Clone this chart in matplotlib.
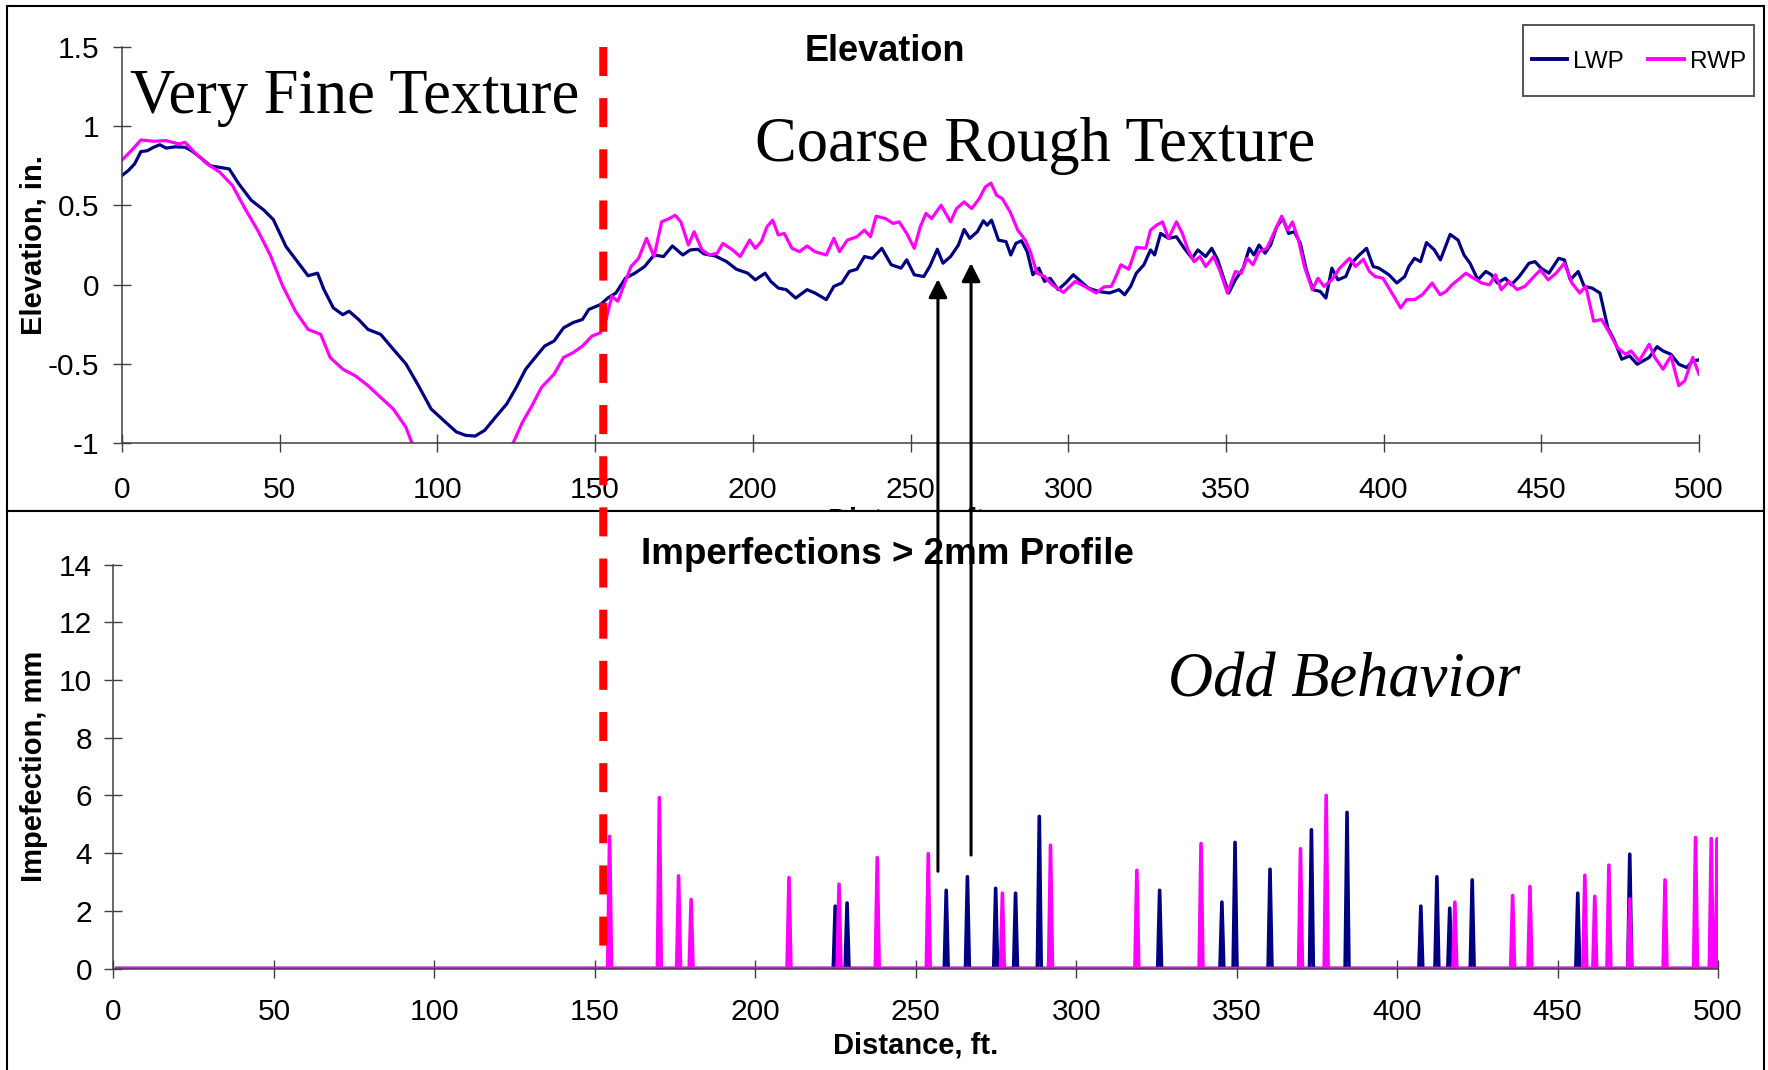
import numpy as np
import matplotlib
matplotlib.use("Agg")
import matplotlib.pyplot as plt
from matplotlib.patches import Rectangle, ConnectionPatch
from matplotlib.ticker import FuncFormatter

plt.rcParams['font.family'] = ['Liberation Sans', 'DejaVu Sans']
plt.rcParams['axes.unicode_minus'] = False

# Elevation profiles (ft, in.)
lwp_x = [0, 2, 4, 6, 8, 10, 12, 14, 17, 20, 22, 25, 28, 31, 34, 37, 41, 45, 48, 52, 56, 59, 62, 64, 67, 70, 72, 75, 78,
         82, 86, 90, 94, 98, 102, 106, 109, 112, 115, 118, 122, 125, 128, 131, 134, 137, 140, 143, 146, 148, 151.7,
         154, 156.6, 159.6, 162.6, 165.7, 168.7, 171.7, 174.5, 177.8, 180.2, 182.6, 184.5, 188.1, 191.7, 194.8, 198.4,
         200.8, 203.9, 205.7, 208.1, 210.6, 213.6, 217.2, 219.7, 223.3, 225.7, 228.2, 230.6, 233, 235.4, 237.9, 240.9,
         243.9, 247, 248.8, 251.2, 254.2, 256.1, 258.5, 260.3, 262.7, 265.2, 267, 268.8, 271.2, 273.1, 274.3, 275.7,
         277.9, 280.3, 281.8, 283.4, 285.2, 287, 288.8, 290.7, 292.5, 294.3, 296.8, 299.2, 301.6, 304, 306.4, 309.5,
         313.1, 316.1, 317.9, 319.8, 321.6, 324, 326.1, 327.4, 329.3, 331.8, 334.3, 336.8, 339.3, 341.1, 343.6, 345.5,
         347.4, 349.3, 350.9, 353, 355.5, 357.4, 358.9, 360.5, 362.4, 364.2, 366.1, 368, 369.9, 371.7, 373.6, 375.5,
         377.6, 379.9, 381.7, 383.6, 385.5, 388, 389.8, 392.3, 394.6, 396.7, 398.5, 401.7, 404.2, 406.7, 408, 409.8,
         411.7, 413.6, 416.1, 418, 421.1, 423.6, 425.5, 427.4, 429.9, 432.4, 434.2, 436.1, 438.6, 440.5, 443, 446.1,
         448, 449.9, 452.4, 455.5, 457.3, 459.2, 461.7, 463.6, 466.1, 468.6, 471.1, 473, 475.5, 478, 480.4, 484.2,
         486.7, 488.6, 491.1, 493.6, 496.1, 498, 500]
lwp_y = [0.689, 0.72, 0.762, 0.84, 0.845, 0.867, 0.883, 0.862, 0.87, 0.867, 0.846, 0.80, 0.75, 0.74, 0.73, 0.637,
         0.532, 0.47, 0.41, 0.24, 0.135, 0.056, 0.072, -0.03, -0.147, -0.19, -0.168, -0.22, -0.283, -0.314, -0.408,
         -0.50, -0.638, -0.785, -0.858, -0.93, -0.952, -0.956, -0.92, -0.847, -0.753, -0.649, -0.534, -0.46, -0.388,
         -0.356, -0.273, -0.24, -0.22, -0.157, -0.126, -0.085, -0.053, 0.04, 0.072, 0.114, 0.187, 0.177, 0.244, 0.187,
         0.219, 0.223, 0.194, 0.181, 0.145, 0.097, 0.072, 0.03, 0.072, 0.02, -0.022, -0.032, -0.085, -0.032, -0.053,
         -0.095, -0.011, 0.01, 0.083, 0.097, 0.177, 0.166, 0.229, 0.125, 0.104, 0.156, 0.062, 0.051, 0.114, 0.223,
         0.135, 0.177, 0.25, 0.348, 0.292, 0.334, 0.403, 0.375, 0.407, 0.281, 0.271, 0.187, 0.26, 0.277, 0.208, 0.062,
         0.104, 0.02, 0.04, -0.032, 0.01, 0.062, 0.02, -0.022, -0.043, -0.053, -0.032, -0.064, -0.011, 0.072, 0.125,
         0.219, 0.187, 0.323, 0.292, 0.302, 0.229, 0.166, 0.219, 0.177, 0.229, 0.156, 0.04, -0.053, 0.03, 0.104, 0.229,
         0.187, 0.25, 0.198, 0.25, 0.365, 0.417, 0.323, 0.334, 0.26, 0.093, -0.032, -0.043, -0.085, 0.104, 0.03, 0.051,
         0.135, 0.187, 0.229, 0.114, 0.104, 0.062, 0.01, 0.051, 0.114, 0.166, 0.145, 0.265, 0.219, 0.156, 0.317, 0.281,
         0.187, 0.135, 0.03, 0.083, 0.062, 0.01, 0.04, -0.001, 0.051, 0.135, 0.145, 0.104, 0.072, 0.166, 0.156, 0.03,
         0.083, -0.011, -0.022, -0.053, -0.273, -0.346, -0.471, -0.45, -0.503, -0.46, -0.392, -0.419, -0.44, -0.503,
         -0.524, -0.482, -0.475]

rwp_x = [0, 3, 6, 10, 14, 18, 20, 23, 27, 31, 35, 39, 43, 47, 51, 55, 59, 63, 66, 70, 74, 78, 82, 86, 90, 92, 95, 100,
         108, 115, 120, 124, 127, 130, 133, 137, 140, 143, 146, 149, 151.7, 153.5, 155.3, 157.2, 159, 161.4, 163.8,
         166.3, 168.7, 171.1, 173.5, 175.4, 177.2, 179.6, 181.4, 183.9, 186.3, 188.7, 190.5, 193.6, 196, 199, 200.8,
         202.7, 204.5, 206.3, 208.1, 210, 212.4, 214.8, 217.2, 219.7, 223.3, 225.7, 227.5, 230, 233, 235.4, 237.3,
         239.1, 242.1, 244.5, 246.4, 248.8, 251.2, 253.1, 254.9, 256.7, 259.7, 262.7, 264.6, 267, 269.4, 271.8, 273.7,
         275.5, 277.3, 279.1, 281.6, 284, 286.4, 288.2, 290.1, 292.5, 294.9, 298.5, 302.2, 305.2, 308.9, 311.3, 313.7,
         314.9, 316.7, 319.2, 321.6, 324.6, 326.1, 328, 329.9, 331.8, 334.3, 336.2, 338, 339.9, 341.8, 343.6, 346.1,
         348, 350.5, 353, 354.9, 356.7, 358.6, 360.5, 363, 364.9, 366.1, 367.7, 369.6, 371.1, 373, 374.9, 377.4, 379.2,
         381.1, 383.6, 386.1, 389.2, 391.1, 393.6, 395.5, 397.3, 399.8, 401.7, 403.6, 405.4, 407.3, 409.8, 412.3,
         415.4, 417.9, 419.8, 421.7, 423.6, 426.1, 428.6, 431.1, 433.6, 435.5, 437.3, 439.8, 442.3, 444.8, 447.2,
         449.7, 452.2, 454.7, 457.3, 459.7, 462.2, 464.1, 466.6, 469.1, 471.6, 474.1, 476.7, 478.5, 481, 484.2, 486,
         488.6, 491.1, 493.6, 495.5, 498, 500]
rwp_y = [0.787, 0.846, 0.913, 0.905, 0.909, 0.888, 0.898, 0.835, 0.762, 0.71, 0.626, 0.48, 0.344, 0.187, -0.011,
         -0.168, -0.283, -0.314, -0.46, -0.534, -0.576, -0.638, -0.712, -0.785, -0.90, -1.004, -1.07, -1.15, -1.2,
         -1.15, -1.07, -1.0, -0.868, -0.764, -0.649, -0.565, -0.46, -0.43, -0.388, -0.325, -0.304, -0.22, -0.074,
         -0.105, -0.011, 0.114, 0.166, 0.292, 0.177, 0.396, 0.417, 0.438, 0.396, 0.25, 0.334, 0.219, 0.187, 0.198, 0.26,
         0.219, 0.177, 0.281, 0.229, 0.271, 0.365, 0.407, 0.313, 0.323, 0.229, 0.208, 0.244, 0.208, 0.187, 0.292, 0.208,
         0.281, 0.302, 0.344, 0.302, 0.432, 0.417, 0.386, 0.396, 0.323, 0.229, 0.365, 0.449, 0.417, 0.501, 0.396, 0.48,
         0.522, 0.48, 0.543, 0.616, 0.641, 0.564, 0.543, 0.459, 0.344, 0.281, 0.198, 0.072, 0.051, -0.001, -0.049, 0.02,
         -0.011, -0.053, -0.015, -0.011, 0.04, 0.125, 0.097, 0.235, 0.229, 0.344, 0.375, 0.396, 0.292, 0.396, 0.323,
         0.219, 0.145, 0.177, 0.114, 0.177, 0.093, -0.053, 0.083, 0.072, 0.166, 0.125, 0.208, 0.229, 0.313, 0.365,
         0.432, 0.344, 0.396, 0.281, 0.114, -0.032, 0.04, -0.011, 0.03, 0.104, 0.166, 0.114, 0.16, 0.083, 0.051, 0.04,
         -0.022, -0.085, -0.147, -0.095, -0.095, -0.064, 0.01, -0.064, -0.043, -0.001, 0.03, 0.072, 0.04, 0.01, -0.001,
         0.062, -0.032, 0.02, -0.032, -0.011, 0.04, 0.093, 0.03, 0.072, 0.135, 0.01, -0.053, -0.011, -0.231, -0.22,
         -0.304, -0.398, -0.44, -0.419, -0.482, -0.377, -0.46, -0.534, -0.45, -0.638, -0.607, -0.46, -0.565]

# Imperfections > 2mm (ft, mm)
lwp_imp_x = [224.9, 228.6, 259.5, 266.1, 274.9, 281.1, 288.5, 326.0, 345.4, 349.5, 360.4, 373.3, 384.4, 407.4,
             412.4, 416.4, 423.4, 456.3, 472.5]
lwp_imp_h = [2.16, 2.27, 2.71, 3.18, 2.78, 2.61, 5.27, 2.71, 2.30, 4.37, 3.44, 4.81, 5.41, 2.16, 3.18, 2.09, 3.07,
             2.61, 3.96]
rwp_imp_x = [154.6, 170.1, 176.1, 180.0, 210.5, 226.1, 238.0, 253.9, 277.0, 292.0, 318.9, 338.9, 369.9, 377.9,
             418.0, 436.0, 441.4, 458.5, 461.6, 466.0, 472.5, 483.5, 493.0, 497.9, 499.8]
rwp_imp_h = [4.58, 5.92, 3.21, 2.39, 3.15, 2.92, 3.84, 3.98, 2.61, 4.27, 3.40, 4.33, 4.15, 6.00, 2.30, 2.53, 2.84,
             3.23, 2.50, 3.58, 2.41, 3.07, 4.54, 4.50, 4.50]

texture_break = 152.6
arrow_top = [(258.7, 0.035), (269.2, 0.136)]
arrow_tail = [3.37, 3.93]

NAVY = '#000080'
PINK = '#FF00FF'
AXC = '#404040'


def spikes(px, ph, start=1.0, end=500.0, half=0.6):
  xs = [start]
  ys = [0.0]
  for p, h in zip(px, ph):
    xs += [p - half, p, min(p + half, end)]
    ys += [0.0, h, 0.0]
  xs.append(end)
  ys.append(0.0)
  return xs, ys


def style_axes(ax, xpad, ypad):
  for s in ['top', 'right']:
    ax.spines[s].set_visible(False)
  for s in ['left', 'bottom']:
    ax.spines[s].set_color(AXC)
    ax.spines[s].set_linewidth(1.1)
  ax.tick_params(direction='inout', length=13, width=1.0, color=AXC, labelsize=21.5)
  ax.tick_params(axis='x', pad=xpad)
  ax.tick_params(axis='y', pad=ypad)
  ax.xaxis.set_major_formatter(FuncFormatter(lambda v, p: '%g' % v))
  ax.yaxis.set_major_formatter(FuncFormatter(lambda v, p: '%g' % v))


W, H = 1768, 1070
fig = plt.figure(figsize=(W / 100, H / 100), dpi=100)

# top panel
ax1 = fig.add_axes([122 / W, 1 - 443 / H, 1577 / W, 396 / H])
ax1.set_zorder(1)
ax1.plot(lwp_x, lwp_y, color=NAVY, lw=2.3, label='LWP')
ax1.plot(rwp_x, rwp_y, color=PINK, lw=2.3, label='RWP')
ax1.set_xlim(0, 500)
ax1.set_ylim(-1, 1.5)
ax1.set_xticks(np.arange(0, 501, 50))
ax1.set_yticks([-1, -0.5, 0, 0.5, 1, 1.5])
style_axes(ax1, 17, 10)
ax1.set_ylabel('Elevation, in.', fontsize=21, fontweight='bold', va='center')
ax1.yaxis.set_label_coords((33.5 - 122) / 1577, 0.5)
ax1.set_xlabel('Distance, ft.', fontsize=21, fontweight='bold', va='center')
ax1.xaxis.set_label_coords(0.5, -77.5 / 396)
ax1.text((885 - 122) / 1577, (443 - 51) / 396, 'Elevation', transform=ax1.transAxes,
         ha='center', va='center', fontsize=26, fontweight='bold')
ax1.text(2.5, 1.083, 'Very Fine Texture', family='Liberation Serif', fontsize=45,
         ha='left', va='baseline')
ax1.text(289.5, 0.78, 'Coarse Rough Texture', family='Liberation Serif', fontsize=45,
         ha='center', va='baseline')

# panel frames
fig.patches.append(Rectangle((7 / W, 1 - 511 / H), 1757 / W, 505 / H, transform=fig.transFigure,
                             fill=False, edgecolor='black', lw=1.5, zorder=0.5))
fig.patches.append(Rectangle((7 / W, -0.02), 1757 / W, 1 - 511 / H + 0.02, transform=fig.transFigure,
                             facecolor='white', edgecolor='black', lw=1.5, zorder=2))

# bottom panel
ax2 = fig.add_axes([113.5 / W, 1 - 968.5 / H, 1604.5 / W, 404 / H])
ax2.set_zorder(3)
ax2.patch.set_alpha(0)
lx, ly = spikes(lwp_imp_x, lwp_imp_h)
rx, ry = spikes(rwp_imp_x, rwp_imp_h)
ax2.plot(lx, ly, color=NAVY, lw=2.6)
ax2.plot(rx, ry, color=PINK, lw=2.6)
ax2.set_xlim(0, 500)
ax2.set_ylim(0, 14)
ax2.set_xticks(np.arange(0, 501, 50))
ax2.set_yticks(np.arange(0, 15, 2))
style_axes(ax2, 15, 9)
ax2.set_ylabel('Impefection, mm', fontsize=21, fontweight='bold', va='center')
ax2.yaxis.set_label_coords((34.5 - 113.5) / 1604.5, 0.5)
ax2.set_xlabel('Distance, ft.', fontsize=21, fontweight='bold', va='center')
ax2.xaxis.set_label_coords(0.5, -77.5 / 404)
ax2.text((887 - 113.5) / 1604.5, (968.5 - 555) / 404, 'Imperfections > 2mm Profile', transform=ax2.transAxes,
         ha='center', va='center', fontsize=26.5, fontweight='bold')
ax2.text(383.4, 9.44, 'Odd Behavior', family='Liberation Serif', style='italic', fontsize=45,
         ha='center', va='baseline')

# legend with a plain square frame
fig.patches.append(Rectangle((1523 / W, 1 - 96 / H), 231 / W, 71 / H, transform=fig.transFigure,
                             fill=False, edgecolor='#555555', lw=1.4, zorder=4))
leg = fig.legend(loc='center', bbox_to_anchor=(1639 / W, 1 - 61.5 / H), ncol=2, fontsize=17.5,
                 frameon=False, handlelength=1.45, handletextpad=0.25, columnspacing=1.0, borderpad=0)
for ln in leg.get_lines():
  ln.set_linewidth(2.8)


def to_bottom_x(xt):
  px = ax1.transData.transform((xt, 0))[0]
  return ax2.transData.inverted().transform((px, 0))[0]


# texture break line
con = ConnectionPatch(xyA=(texture_break, 1.5), coordsA=ax1.transData,
                      xyB=(to_bottom_x(texture_break), 0.54), coordsB=ax2.transData,
                      color='#FF0000', lw=5.8, linestyle=(0, (3.6, 2.75)), capstyle='butt', zorder=6)
fig.add_artist(con)

# arrows from bottom panel up to the profile
for (xt, yt), yb in zip(arrow_top, arrow_tail):
  arr = ConnectionPatch(xyA=(to_bottom_x(xt), yb), coordsA=ax2.transData,
                        xyB=(xt, yt), coordsB=ax1.transData,
                        arrowstyle='-|>,head_length=0.55,head_width=0.28', mutation_scale=20,
                        color='black', lw=2.2, zorder=6)
  fig.add_artist(arr)

fig.savefig('out.png', dpi=100)
